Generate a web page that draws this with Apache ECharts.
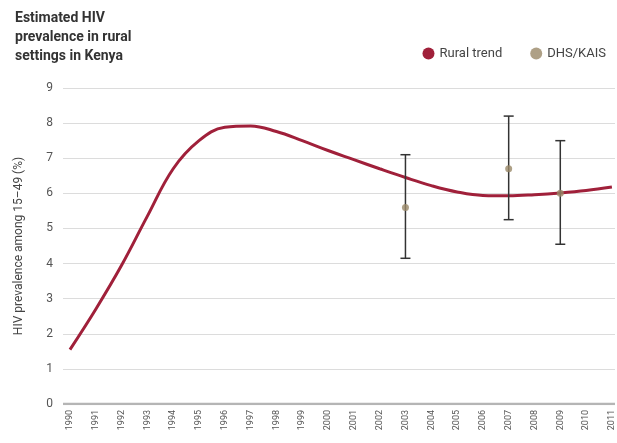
<!DOCTYPE html>
<html>
<head>
<meta charset="utf-8">
<script src="https://cdn.jsdelivr.net/npm/echarts@6/dist/echarts.min.js"></script>
<style>
  html, body { margin: 0; padding: 0; background: #fff; }
  #chart { width: 617px; height: 443px; }
</style>
</head>
<body>
<div id="chart"></div>
<script>
// Years on the x axis
const years = [1990, 1991, 1992, 1993, 1994, 1995, 1996, 1997, 1998, 1999, 2000,
               2001, 2002, 2003, 2004, 2005, 2006, 2007, 2008, 2009, 2010, 2011];
// Modelled rural HIV prevalence (%)
const ruralTrend = [1.55, 2.7, 3.95, 5.35, 6.7, 7.5, 7.88, 7.92, 7.76, 7.5, 7.22,
                    6.96, 6.7, 6.45, 6.22, 6.04, 5.94, 5.93, 5.96, 6.01, 6.08, 6.18];
// Survey estimates (DHS/KAIS) with confidence bounds
const surveyYears = [2003, 2007, 2009];
const surveyValues = [5.6, 6.7, 6.0];
const surveyLow = [4.15, 5.25, 4.55];
const surveyHigh = [7.1, 8.2, 7.5];
const yTicks = [0, 1, 2, 3, 4, 5, 6, 7, 8, 9];

const chart = echarts.init(document.getElementById('chart'));
const font = '"Liberation Sans Narrow", "Roboto", sans-serif';

chart.setOption({
  animation: false,
  title: {
    text: 'Estimated HIV\nprevalence in rural\nsettings in Kenya',
    left: 10, top: 4,
    textStyle: { fontFamily: font, fontSize: 14, fontWeight: 'bold', color: '#333', lineHeight: 19 }
  },
  legend: {
    right: 6, top: 42,
    itemWidth: 12, itemHeight: 12, itemGap: 28,
    icon: 'circle',
    textStyle: { fontFamily: font, fontSize: 13, color: '#444' },
    data: [
      { name: 'Rural trend', itemStyle: { color: '#a0203a' } },
      { name: 'DHS/KAIS', itemStyle: { color: '#9a8868' } }
    ]
  },
  grid: { left: 63, right: 2, top: 88, bottom: 39 },
  xAxis: {
    type: 'value',
    min: 1989.73, max: 2011.12,
    splitLine: { show: false },
    axisLine: { show: false },
    axisTick: { show: false },
    axisLabel: {
      customValues: years,
      rotate: 90,
      fontFamily: font, fontSize: 9, color: '#555',
      margin: 6,
      formatter: v => String(v)
    }
  },
  yAxis: {
    type: 'value',
    min: 0, max: 9, interval: 1,
    name: 'HIV prevalence among 15–49 (%)',
    nameLocation: 'middle',
    nameGap: 38,
    nameTextStyle: { fontFamily: font, fontSize: 12, color: '#444' },
    axisLine: { show: false },
    axisTick: { show: false },
    axisLabel: {
      fontFamily: font, fontSize: 12, color: '#555', margin: 10,
      formatter: v => yTicks.includes(v) ? String(v) : ''
    },
    splitLine: { lineStyle: { color: '#dcdcdc', width: 1 } }
  },
  series: [
    {
      name: 'Baseline',
      type: 'line',
      data: [[1989.73, 0], [2011.12, 0]],
      symbol: 'none', silent: true,
      lineStyle: { color: '#b5b5b5', width: 2.5 },
      z: 1
    },
    {
      name: 'Rural trend',
      type: 'line',
      data: years.map((y, i) => [y, ruralTrend[i]]),
      smooth: 0.4,
      symbol: 'none',
      lineStyle: { color: '#a0203a', width: 3 },
      itemStyle: { color: '#a0203a' },
      z: 3
    },
    {
      name: 'Error bars',
      type: 'custom',
      data: surveyYears.map((y, i) => [y, surveyLow[i], surveyHigh[i]]),
      renderItem: (params, api) => {
        const x = api.value(0);
        const lo = api.coord([x, api.value(1)]);
        const hi = api.coord([x, api.value(2)]);
        const cap = 5;
        const style = { stroke: '#333', lineWidth: 1.5 };
        return {
          type: 'group',
          children: [
            { type: 'line', shape: { x1: lo[0], y1: lo[1], x2: hi[0], y2: hi[1] }, style },
            { type: 'line', shape: { x1: lo[0] - cap, y1: lo[1], x2: lo[0] + cap, y2: lo[1] }, style },
            { type: 'line', shape: { x1: hi[0] - cap, y1: hi[1], x2: hi[0] + cap, y2: hi[1] }, style }
          ]
        };
      },
      z: 4
    },
    {
      name: 'DHS/KAIS',
      type: 'scatter',
      data: surveyYears.map((y, i) => [y, surveyValues[i]]),
      symbolSize: 7,
      itemStyle: { color: '#9a8868' },
      z: 5
    }
  ]
});
</script>
</body>
</html>
